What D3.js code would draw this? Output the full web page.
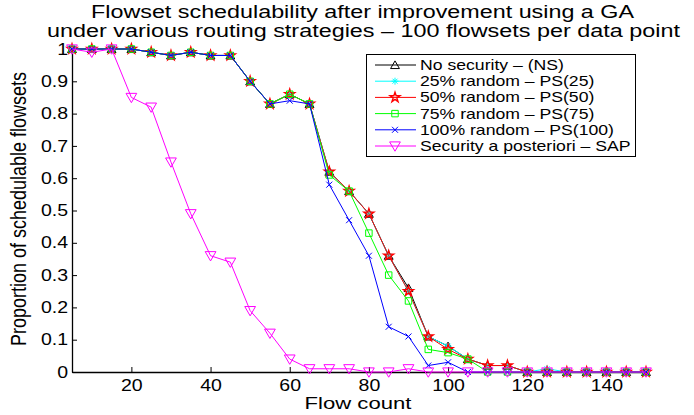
<!DOCTYPE html>
<html><head><meta charset="utf-8">
<script src="https://cdn.jsdelivr.net/npm/d3@7"></script>
<style>body{margin:0;background:#fff}text{font-family:"Liberation Sans",Arial,sans-serif;fill:#000}</style>
</head><body><svg id="c" width="694" height="415"></svg>
<script>
const flowCount = [5,10,15,20,25,30,35,40,45,50,55,60,65,70,75,80,85,90,95,100,105,110,115,120,125,130,135,140,145,150];
const ns    = [1,1,1,1,0.99,0.98,0.99,0.98,0.98,0.90,0.83,0.86,0.83,0.62,0.56,0.49,0.36,0.26,0.11,0.08,0.04,0.02,0.02,0,0,0,0,0,0,0];
const ps25  = [1,1,1,1,0.99,0.98,0.99,0.98,0.98,0.90,0.83,0.86,0.83,0.62,0.56,0.49,0.36,0.25,0.11,0.08,0.04,0.02,0.02,0,0.01,0,0,0,0,0];
const ps50  = [1,1,1,1,0.99,0.98,0.99,0.98,0.98,0.90,0.83,0.86,0.83,0.62,0.56,0.49,0.36,0.25,0.11,0.07,0.04,0.02,0.02,0,0,0,0,0,0,0];
const ps75  = [1,1,1,1,0.99,0.98,0.99,0.98,0.98,0.90,0.83,0.86,0.83,0.61,0.56,0.43,0.30,0.22,0.07,0.06,0.04,0,0,0,0,0,0,0,0,0];
const ps100 = [1,1,1,1,0.99,0.98,0.99,0.98,0.98,0.90,0.83,0.84,0.83,0.58,0.47,0.36,0.14,0.11,0.02,0.03,0,0,0,0,0,0,0,0,0,0];
const sap   = [1,0.99,1,0.85,0.82,0.65,0.49,0.36,0.34,0.19,0.12,0.04,0.01,0.01,0.01,0,0,0.01,0,0,0,0,0,0,0,0,0,0,0,0];
const xTicks = [20,40,60,80,100,120,140];
const yTicks = [0,0.1,0.2,0.3,0.4,0.5,0.6,0.7,0.8,0.9,1];
const seriesNames = ["No security \u2013 (NS)","25% random \u2013 PS(25)","50% random \u2013 PS(50)","75% random \u2013 PS(75)","100% random \u2013 PS(100)","Security a posteriori \u2013 SAP"];
const seriesValues = [ns, ps25, ps50, ps75, ps100, sap];
const seriesColors = ["#000000","#00ffff","#ff0000","#00ff00","#0000ff","#ff00ff"];
const seriesMarkers = ["tri","ast","star","sq","x","tridown"];

const svg = d3.select("#c");
const L=72, R=646, T=49, B=372;
const x = d3.scaleLinear().domain([5,150]).range([L,R]);
const y = d3.scaleLinear().domain([0,1]).range([B,T]);

function stretch(sel, sx){
  sel.each(function(){
    const t = d3.select(this);
    const tx = +(t.attr("x")||0), ty = +(t.attr("y")||0);
    t.attr("x", 0).attr("y", 0).attr("transform", `translate(${tx},${ty}) scale(${sx},1)`);
  });
  return sel;
}

// axes
const xa = svg.append("g").attr("transform",`translate(0,${B})`)
  .call(d3.axisBottom(x).tickValues(xTicks).tickSizeInner(-5).tickSizeOuter(0).tickPadding(8));
const ya = svg.append("g").attr("transform",`translate(${L},0)`)
  .call(d3.axisLeft(y).tickValues(yTicks).tickFormat(d=>d3.format("")(+d.toFixed(1))).tickSizeInner(-5).tickSizeOuter(0).tickPadding(4));
[xa,ya].forEach(a=>{a.selectAll("path").attr("stroke","#000").attr("stroke-width",1.3);
  a.selectAll("line").attr("stroke","#000");
  a.selectAll("text").style("font-size","16px").style("font-family","Liberation Sans, Arial, sans-serif");
  stretch(a.selectAll("text"), 1.22);});

function marker(g, type, cx, cy, color){
  const s = d3.symbol();
  if(type==="tri") g.append("path").attr("d",s.type(d3.symbolTriangle).size(34)()).attr("transform",`translate(${cx},${cy+1})`).attr("fill","none").attr("stroke",color);
  else if(type==="tridown") g.append("path").attr("d",s.type(d3.symbolTriangle).size(50)()).attr("transform",`translate(${cx},${cy-1}) rotate(180)`).attr("fill","none").attr("stroke",color);
  else if(type==="sq") g.append("path").attr("d",s.type(d3.symbolSquare).size(42)()).attr("transform",`translate(${cx},${cy})`).attr("fill","none").attr("stroke",color);
  else if(type==="star") g.append("path").attr("d",s.type(d3.symbolStar).size(30)()).attr("transform",`translate(${cx},${cy})`).attr("fill","none").attr("stroke",color).attr("stroke-width",1.4);
  else if(type==="x") g.append("path").attr("d","M-3,-3L3,3M-3,3L3,-3").attr("transform",`translate(${cx},${cy})`).attr("stroke",color);
  else if(type==="ast") g.append("path").attr("d","M-3.5,0L3.5,0M0,-3.5L0,3.5M-2.5,-2.5L2.5,2.5M-2.5,2.5L2.5,-2.5").attr("transform",`translate(${cx},${cy})`).attr("stroke",color);
}

const line = d3.line().x((d,i)=>x(flowCount[i])).y(d=>y(d));
seriesValues.forEach((vals,k)=>{
  const g = svg.append("g");
  g.append("path").attr("d",line(vals)).attr("fill","none").attr("stroke",seriesColors[k]).attr("stroke-width",1);
  vals.forEach((v,i)=>marker(g, seriesMarkers[k], x(flowCount[i]), y(v), seriesColors[k]));
});

// titles
svg.append("text").attr("x",362.5).attr("y",18).attr("text-anchor","middle").style("font-size","17.5px")
  .attr("textLength",543).attr("lengthAdjust","spacingAndGlyphs").text("Flowset schedulability after improvement using a GA");
svg.append("text").attr("x",363.5).attr("y",37).attr("text-anchor","middle").style("font-size","17.5px")
  .attr("textLength",633).attr("lengthAdjust","spacingAndGlyphs").text("under various routing strategies \u2013 100 flowsets per data point");
stretch(svg.append("text").attr("x",358).attr("y",409).attr("text-anchor","middle").style("font-size","17px").text("Flow count"), 1.3);
svg.append("text").attr("transform","translate(26,209) scale(1.25,1) rotate(-90)").attr("text-anchor","middle").style("font-size","18px").text("Proportion of schedulable flowsets");

// legend
const lg = svg.append("g");
lg.append("rect").attr("x",366.5).attr("y",54.5).attr("width",269).attr("height",102).attr("fill","#fff").attr("stroke","#000").attr("stroke-width",1);
seriesNames.forEach((n,k)=>{
  const yy = 65 + k*16.2;
  lg.append("line").attr("x1",375).attr("x2",416).attr("y1",yy).attr("y2",yy).attr("stroke",seriesColors[k]);
  marker(lg, seriesMarkers[k], 395, yy, seriesColors[k]);
  stretch(lg.append("text").attr("x",420).attr("y",yy+5).style("font-size","14px").text(n), 1.26);
});
</script></body></html>
